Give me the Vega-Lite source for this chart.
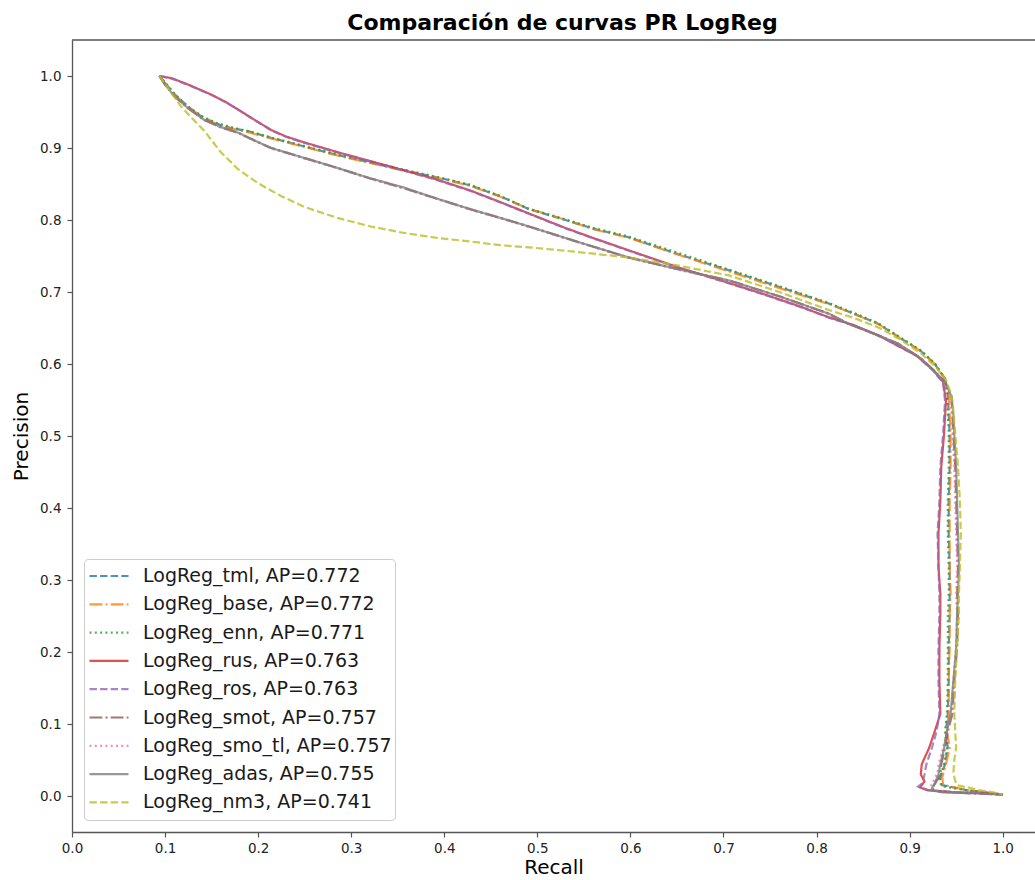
{
  "$schema": "https://vega.github.io/schema/vega-lite/v6.json",
  "autosize": "none",
  "width": 963,
  "height": 792,
  "padding": {"left": 72, "top": 40, "right": 0, "bottom": 48},
  "background": "white",
  "title": {
    "text": "Comparación de curvas PR LogReg",
    "font": "DejaVu Sans",
    "fontSize": 22,
    "fontWeight": "bold",
    "color": "#000000",
    "anchor": "middle",
    "dx": 9,
    "offset": 4
  },
  "config": {
    "view": {"stroke": null},
    "axis": {
      "labelFont": "DejaVu Sans",
      "titleFont": "DejaVu Sans",
      "labelFontSize": 13.5,
      "titleFontSize": 20,
      "titleFontWeight": "normal",
      "labelColor": "#222222",
      "titleColor": "#000000",
      "domainColor": "#555555",
      "domainWidth": 1.3,
      "tickColor": "#555555",
      "tickWidth": 1.2,
      "tickSize": 5,
      "labelFlush": false,
      "grid": false
    },
    "legend": {
      "orient": "bottom-left",
      "offset": 12,
      "padding": 3,
      "fillColor": "rgba(255,255,255,0.8)",
      "strokeColor": "#cccccc",
      "strokeWidth": 1,
      "cornerRadius": 4,
      "symbolType": "stroke",
      "symbolSize": 1521,
      "symbolStrokeWidth": 2.2,
      "symbolOpacity": 0.8,
      "symbolOffset": 1,
      "labelFont": "DejaVu Sans",
      "labelFontSize": 19,
      "labelColor": "#1a1a1a",
      "labelOffset": 13,
      "labelLimit": 0,
      "clipHeight": 28,
      "rowPadding": 0.3
    }
  },
  "datasets": {
    "modelos": [
      {"s": "tml", "nombre": "LogReg_tml, AP=0.772"},
      {"s": "base", "nombre": "LogReg_base, AP=0.772"},
      {"s": "enn", "nombre": "LogReg_enn, AP=0.771"},
      {"s": "rus", "nombre": "LogReg_rus, AP=0.763"},
      {"s": "ros", "nombre": "LogReg_ros, AP=0.763"},
      {"s": "smot", "nombre": "LogReg_smot, AP=0.757"},
      {"s": "smo_tl", "nombre": "LogReg_smo_tl, AP=0.757"},
      {"s": "adas", "nombre": "LogReg_adas, AP=0.755"},
      {"s": "nm3", "nombre": "LogReg_nm3, AP=0.741"}
    ],
    "curvas": [
      {"s":"tml","r":0.094,"p":1.000},{"s":"tml","r":0.100,"p":0.990},{"s":"tml","r":0.110,"p":0.975},{"s":"tml","r":0.125,"p":0.957},{"s":"tml","r":0.140,"p":0.943},{"s":"tml","r":0.155,"p":0.934},{"s":"tml","r":0.170,"p":0.928},{"s":"tml","r":0.190,"p":0.923},{"s":"tml","r":0.214,"p":0.914},{"s":"tml","r":0.250,"p":0.902},{"s":"tml","r":0.286,"p":0.890},{"s":"tml","r":0.320,"p":0.880},{"s":"tml","r":0.357,"p":0.869},{"s":"tml","r":0.400,"p":0.857},{"s":"tml","r":0.428,"p":0.848},{"s":"tml","r":0.460,"p":0.833},{"s":"tml","r":0.491,"p":0.815},{"s":"tml","r":0.530,"p":0.800},{"s":"tml","r":0.560,"p":0.788},{"s":"tml","r":0.598,"p":0.776},{"s":"tml","r":0.650,"p":0.753},{"s":"tml","r":0.706,"p":0.730},{"s":"tml","r":0.760,"p":0.707},{"s":"tml","r":0.813,"p":0.684},{"s":"tml","r":0.840,"p":0.670},{"s":"tml","r":0.866,"p":0.656},{"s":"tml","r":0.890,"p":0.636},{"s":"tml","r":0.912,"p":0.618},{"s":"tml","r":0.927,"p":0.600},{"s":"tml","r":0.938,"p":0.580},{"s":"tml","r":0.941,"p":0.560},{"s":"tml","r":0.942,"p":0.530},{"s":"tml","r":0.943,"p":0.503},{"s":"tml","r":0.943,"p":0.457},{"s":"tml","r":0.942,"p":0.410},{"s":"tml","r":0.942,"p":0.364},{"s":"tml","r":0.943,"p":0.318},{"s":"tml","r":0.943,"p":0.281},{"s":"tml","r":0.943,"p":0.253},{"s":"tml","r":0.942,"p":0.206},{"s":"tml","r":0.942,"p":0.160},{"s":"tml","r":0.941,"p":0.114},{"s":"tml","r":0.939,"p":0.090},{"s":"tml","r":0.941,"p":0.067},{"s":"tml","r":0.938,"p":0.044},{"s":"tml","r":0.933,"p":0.025},{"s":"tml","r":0.935,"p":0.015},{"s":"tml","r":0.947,"p":0.012},{"s":"tml","r":0.962,"p":0.008},{"s":"tml","r":0.981,"p":0.005},{"s":"tml","r":1.000,"p":0.002},

      {"s":"base","r":0.094,"p":1.000},{"s":"base","r":0.101,"p":0.989},{"s":"base","r":0.112,"p":0.972},{"s":"base","r":0.126,"p":0.956},{"s":"base","r":0.141,"p":0.942},{"s":"base","r":0.156,"p":0.933},{"s":"base","r":0.172,"p":0.927},{"s":"base","r":0.192,"p":0.921},{"s":"base","r":0.215,"p":0.913},{"s":"base","r":0.251,"p":0.901},{"s":"base","r":0.287,"p":0.889},{"s":"base","r":0.321,"p":0.879},{"s":"base","r":0.358,"p":0.868},{"s":"base","r":0.401,"p":0.856},{"s":"base","r":0.429,"p":0.847},{"s":"base","r":0.461,"p":0.832},{"s":"base","r":0.492,"p":0.815},{"s":"base","r":0.531,"p":0.800},{"s":"base","r":0.561,"p":0.787},{"s":"base","r":0.599,"p":0.775},{"s":"base","r":0.651,"p":0.752},{"s":"base","r":0.707,"p":0.728},{"s":"base","r":0.761,"p":0.705},{"s":"base","r":0.814,"p":0.683},{"s":"base","r":0.841,"p":0.669},{"s":"base","r":0.867,"p":0.655},{"s":"base","r":0.891,"p":0.635},{"s":"base","r":0.913,"p":0.617},{"s":"base","r":0.928,"p":0.599},{"s":"base","r":0.938,"p":0.579},{"s":"base","r":0.942,"p":0.558},{"s":"base","r":0.943,"p":0.530},{"s":"base","r":0.944,"p":0.503},{"s":"base","r":0.944,"p":0.457},{"s":"base","r":0.943,"p":0.410},{"s":"base","r":0.943,"p":0.364},{"s":"base","r":0.943,"p":0.318},{"s":"base","r":0.944,"p":0.281},{"s":"base","r":0.943,"p":0.253},{"s":"base","r":0.943,"p":0.206},{"s":"base","r":0.942,"p":0.160},{"s":"base","r":0.942,"p":0.114},{"s":"base","r":0.940,"p":0.090},{"s":"base","r":0.943,"p":0.067},{"s":"base","r":0.939,"p":0.044},{"s":"base","r":0.935,"p":0.026},{"s":"base","r":0.936,"p":0.016},{"s":"base","r":0.948,"p":0.012},{"s":"base","r":0.963,"p":0.008},{"s":"base","r":0.982,"p":0.005},{"s":"base","r":1.000,"p":0.002},

      {"s":"enn","r":0.094,"p":1.000},{"s":"enn","r":0.100,"p":0.991},{"s":"enn","r":0.111,"p":0.974},{"s":"enn","r":0.124,"p":0.958},{"s":"enn","r":0.140,"p":0.944},{"s":"enn","r":0.155,"p":0.935},{"s":"enn","r":0.171,"p":0.929},{"s":"enn","r":0.191,"p":0.923},{"s":"enn","r":0.213,"p":0.915},{"s":"enn","r":0.249,"p":0.903},{"s":"enn","r":0.285,"p":0.891},{"s":"enn","r":0.320,"p":0.881},{"s":"enn","r":0.356,"p":0.870},{"s":"enn","r":0.399,"p":0.858},{"s":"enn","r":0.428,"p":0.849},{"s":"enn","r":0.459,"p":0.834},{"s":"enn","r":0.490,"p":0.816},{"s":"enn","r":0.530,"p":0.801},{"s":"enn","r":0.560,"p":0.789},{"s":"enn","r":0.598,"p":0.777},{"s":"enn","r":0.650,"p":0.755},{"s":"enn","r":0.706,"p":0.731},{"s":"enn","r":0.760,"p":0.708},{"s":"enn","r":0.813,"p":0.685},{"s":"enn","r":0.840,"p":0.671},{"s":"enn","r":0.866,"p":0.657},{"s":"enn","r":0.890,"p":0.637},{"s":"enn","r":0.912,"p":0.619},{"s":"enn","r":0.927,"p":0.601},{"s":"enn","r":0.937,"p":0.581},{"s":"enn","r":0.940,"p":0.560},{"s":"enn","r":0.941,"p":0.530},{"s":"enn","r":0.942,"p":0.503},{"s":"enn","r":0.942,"p":0.457},{"s":"enn","r":0.941,"p":0.410},{"s":"enn","r":0.941,"p":0.364},{"s":"enn","r":0.942,"p":0.318},{"s":"enn","r":0.942,"p":0.281},{"s":"enn","r":0.941,"p":0.253},{"s":"enn","r":0.941,"p":0.206},{"s":"enn","r":0.941,"p":0.160},{"s":"enn","r":0.940,"p":0.114},{"s":"enn","r":0.938,"p":0.090},{"s":"enn","r":0.940,"p":0.067},{"s":"enn","r":0.937,"p":0.044},{"s":"enn","r":0.932,"p":0.024},{"s":"enn","r":0.934,"p":0.014},{"s":"enn","r":0.946,"p":0.011},{"s":"enn","r":0.961,"p":0.008},{"s":"enn","r":0.980,"p":0.005},{"s":"enn","r":1.000,"p":0.002},

      {"s":"rus","r":0.094,"p":1.000},{"s":"rus","r":0.107,"p":0.997},{"s":"rus","r":0.125,"p":0.988},{"s":"rus","r":0.150,"p":0.974},{"s":"rus","r":0.165,"p":0.964},{"s":"rus","r":0.179,"p":0.953},{"s":"rus","r":0.195,"p":0.940},{"s":"rus","r":0.214,"p":0.925},{"s":"rus","r":0.230,"p":0.916},{"s":"rus","r":0.249,"p":0.908},{"s":"rus","r":0.286,"p":0.894},{"s":"rus","r":0.320,"p":0.882},{"s":"rus","r":0.357,"p":0.869},{"s":"rus","r":0.390,"p":0.857},{"s":"rus","r":0.428,"p":0.841},{"s":"rus","r":0.460,"p":0.825},{"s":"rus","r":0.491,"p":0.809},{"s":"rus","r":0.530,"p":0.789},{"s":"rus","r":0.560,"p":0.775},{"s":"rus","r":0.598,"p":0.758},{"s":"rus","r":0.652,"p":0.734},{"s":"rus","r":0.700,"p":0.715},{"s":"rus","r":0.741,"p":0.698},{"s":"rus","r":0.780,"p":0.681},{"s":"rus","r":0.813,"p":0.665},{"s":"rus","r":0.840,"p":0.654},{"s":"rus","r":0.866,"p":0.640},{"s":"rus","r":0.888,"p":0.625},{"s":"rus","r":0.907,"p":0.612},{"s":"rus","r":0.925,"p":0.592},{"s":"rus","r":0.936,"p":0.575},{"s":"rus","r":0.939,"p":0.549},{"s":"rus","r":0.937,"p":0.503},{"s":"rus","r":0.934,"p":0.457},{"s":"rus","r":0.933,"p":0.410},{"s":"rus","r":0.931,"p":0.364},{"s":"rus","r":0.931,"p":0.318},{"s":"rus","r":0.933,"p":0.281},{"s":"rus","r":0.933,"p":0.253},{"s":"rus","r":0.932,"p":0.206},{"s":"rus","r":0.932,"p":0.160},{"s":"rus","r":0.933,"p":0.114},{"s":"rus","r":0.927,"p":0.090},{"s":"rus","r":0.921,"p":0.067},{"s":"rus","r":0.913,"p":0.044},{"s":"rus","r":0.912,"p":0.030},{"s":"rus","r":0.916,"p":0.020},{"s":"rus","r":0.911,"p":0.012},{"s":"rus","r":0.919,"p":0.008},{"s":"rus","r":0.950,"p":0.005},{"s":"rus","r":0.980,"p":0.004},{"s":"rus","r":1.000,"p":0.002},

      {"s":"ros","r":0.094,"p":1.000},{"s":"ros","r":0.108,"p":0.996},{"s":"ros","r":0.126,"p":0.987},{"s":"ros","r":0.151,"p":0.973},{"s":"ros","r":0.166,"p":0.963},{"s":"ros","r":0.180,"p":0.952},{"s":"ros","r":0.196,"p":0.939},{"s":"ros","r":0.215,"p":0.924},{"s":"ros","r":0.231,"p":0.915},{"s":"ros","r":0.250,"p":0.907},{"s":"ros","r":0.287,"p":0.893},{"s":"ros","r":0.321,"p":0.881},{"s":"ros","r":0.358,"p":0.868},{"s":"ros","r":0.391,"p":0.856},{"s":"ros","r":0.429,"p":0.840},{"s":"ros","r":0.461,"p":0.824},{"s":"ros","r":0.492,"p":0.808},{"s":"ros","r":0.531,"p":0.788},{"s":"ros","r":0.561,"p":0.774},{"s":"ros","r":0.599,"p":0.757},{"s":"ros","r":0.653,"p":0.733},{"s":"ros","r":0.701,"p":0.714},{"s":"ros","r":0.742,"p":0.697},{"s":"ros","r":0.781,"p":0.680},{"s":"ros","r":0.814,"p":0.664},{"s":"ros","r":0.841,"p":0.653},{"s":"ros","r":0.867,"p":0.639},{"s":"ros","r":0.889,"p":0.624},{"s":"ros","r":0.908,"p":0.611},{"s":"ros","r":0.925,"p":0.591},{"s":"ros","r":0.936,"p":0.574},{"s":"ros","r":0.938,"p":0.549},{"s":"ros","r":0.936,"p":0.503},{"s":"ros","r":0.933,"p":0.457},{"s":"ros","r":0.932,"p":0.410},{"s":"ros","r":0.930,"p":0.364},{"s":"ros","r":0.931,"p":0.318},{"s":"ros","r":0.932,"p":0.281},{"s":"ros","r":0.932,"p":0.253},{"s":"ros","r":0.931,"p":0.206},{"s":"ros","r":0.931,"p":0.160},{"s":"ros","r":0.932,"p":0.114},{"s":"ros","r":0.929,"p":0.090},{"s":"ros","r":0.924,"p":0.067},{"s":"ros","r":0.918,"p":0.044},{"s":"ros","r":0.916,"p":0.030},{"s":"ros","r":0.914,"p":0.018},{"s":"ros","r":0.909,"p":0.013},{"s":"ros","r":0.921,"p":0.008},{"s":"ros","r":0.951,"p":0.005},{"s":"ros","r":0.981,"p":0.004},{"s":"ros","r":1.000,"p":0.002},

      {"s":"smot","r":0.094,"p":1.000},{"s":"smot","r":0.100,"p":0.988},{"s":"smot","r":0.110,"p":0.972},{"s":"smot","r":0.125,"p":0.955},{"s":"smot","r":0.142,"p":0.939},{"s":"smot","r":0.160,"p":0.929},{"s":"smot","r":0.179,"p":0.921},{"s":"smot","r":0.195,"p":0.911},{"s":"smot","r":0.214,"p":0.900},{"s":"smot","r":0.250,"p":0.886},{"s":"smot","r":0.286,"p":0.872},{"s":"smot","r":0.320,"p":0.858},{"s":"smot","r":0.357,"p":0.844},{"s":"smot","r":0.384,"p":0.833},{"s":"smot","r":0.428,"p":0.815},{"s":"smot","r":0.460,"p":0.803},{"s":"smot","r":0.491,"p":0.791},{"s":"smot","r":0.540,"p":0.771},{"s":"smot","r":0.598,"p":0.748},{"s":"smot","r":0.650,"p":0.732},{"s":"smot","r":0.706,"p":0.716},{"s":"smot","r":0.760,"p":0.694},{"s":"smot","r":0.813,"p":0.670},{"s":"smot","r":0.834,"p":0.656},{"s":"smot","r":0.866,"p":0.640},{"s":"smot","r":0.888,"p":0.628},{"s":"smot","r":0.912,"p":0.608},{"s":"smot","r":0.926,"p":0.591},{"s":"smot","r":0.938,"p":0.575},{"s":"smot","r":0.945,"p":0.555},{"s":"smot","r":0.946,"p":0.530},{"s":"smot","r":0.947,"p":0.503},{"s":"smot","r":0.949,"p":0.457},{"s":"smot","r":0.950,"p":0.410},{"s":"smot","r":0.951,"p":0.364},{"s":"smot","r":0.952,"p":0.318},{"s":"smot","r":0.951,"p":0.281},{"s":"smot","r":0.952,"p":0.253},{"s":"smot","r":0.951,"p":0.206},{"s":"smot","r":0.948,"p":0.160},{"s":"smot","r":0.946,"p":0.114},{"s":"smot","r":0.941,"p":0.090},{"s":"smot","r":0.938,"p":0.067},{"s":"smot","r":0.934,"p":0.044},{"s":"smot","r":0.933,"p":0.030},{"s":"smot","r":0.929,"p":0.021},{"s":"smot","r":0.924,"p":0.010},{"s":"smot","r":0.933,"p":0.006},{"s":"smot","r":0.960,"p":0.004},{"s":"smot","r":1.000,"p":0.002},

      {"s":"smo_tl","r":0.094,"p":1.000},{"s":"smo_tl","r":0.101,"p":0.987},{"s":"smo_tl","r":0.111,"p":0.971},{"s":"smo_tl","r":0.126,"p":0.954},{"s":"smo_tl","r":0.143,"p":0.938},{"s":"smo_tl","r":0.161,"p":0.928},{"s":"smo_tl","r":0.180,"p":0.920},{"s":"smo_tl","r":0.196,"p":0.910},{"s":"smo_tl","r":0.215,"p":0.899},{"s":"smo_tl","r":0.251,"p":0.885},{"s":"smo_tl","r":0.287,"p":0.871},{"s":"smo_tl","r":0.321,"p":0.857},{"s":"smo_tl","r":0.358,"p":0.843},{"s":"smo_tl","r":0.385,"p":0.832},{"s":"smo_tl","r":0.429,"p":0.814},{"s":"smo_tl","r":0.461,"p":0.802},{"s":"smo_tl","r":0.492,"p":0.790},{"s":"smo_tl","r":0.541,"p":0.770},{"s":"smo_tl","r":0.599,"p":0.747},{"s":"smo_tl","r":0.651,"p":0.731},{"s":"smo_tl","r":0.707,"p":0.715},{"s":"smo_tl","r":0.761,"p":0.693},{"s":"smo_tl","r":0.814,"p":0.669},{"s":"smo_tl","r":0.835,"p":0.655},{"s":"smo_tl","r":0.867,"p":0.639},{"s":"smo_tl","r":0.889,"p":0.627},{"s":"smo_tl","r":0.913,"p":0.607},{"s":"smo_tl","r":0.927,"p":0.590},{"s":"smo_tl","r":0.938,"p":0.574},{"s":"smo_tl","r":0.944,"p":0.555},{"s":"smo_tl","r":0.945,"p":0.530},{"s":"smo_tl","r":0.946,"p":0.503},{"s":"smo_tl","r":0.948,"p":0.457},{"s":"smo_tl","r":0.949,"p":0.410},{"s":"smo_tl","r":0.950,"p":0.364},{"s":"smo_tl","r":0.951,"p":0.318},{"s":"smo_tl","r":0.950,"p":0.281},{"s":"smo_tl","r":0.951,"p":0.253},{"s":"smo_tl","r":0.950,"p":0.206},{"s":"smo_tl","r":0.947,"p":0.160},{"s":"smo_tl","r":0.945,"p":0.114},{"s":"smo_tl","r":0.940,"p":0.090},{"s":"smo_tl","r":0.936,"p":0.067},{"s":"smo_tl","r":0.931,"p":0.044},{"s":"smo_tl","r":0.930,"p":0.032},{"s":"smo_tl","r":0.926,"p":0.022},{"s":"smo_tl","r":0.922,"p":0.011},{"s":"smo_tl","r":0.932,"p":0.006},{"s":"smo_tl","r":0.961,"p":0.004},{"s":"smo_tl","r":1.000,"p":0.002},

      {"s":"adas","r":0.094,"p":1.000},{"s":"adas","r":0.100,"p":0.988},{"s":"adas","r":0.110,"p":0.972},{"s":"adas","r":0.125,"p":0.955},{"s":"adas","r":0.142,"p":0.939},{"s":"adas","r":0.160,"p":0.929},{"s":"adas","r":0.179,"p":0.921},{"s":"adas","r":0.195,"p":0.911},{"s":"adas","r":0.214,"p":0.900},{"s":"adas","r":0.250,"p":0.886},{"s":"adas","r":0.286,"p":0.872},{"s":"adas","r":0.320,"p":0.858},{"s":"adas","r":0.357,"p":0.845},{"s":"adas","r":0.384,"p":0.833},{"s":"adas","r":0.428,"p":0.815},{"s":"adas","r":0.460,"p":0.803},{"s":"adas","r":0.491,"p":0.791},{"s":"adas","r":0.540,"p":0.771},{"s":"adas","r":0.598,"p":0.748},{"s":"adas","r":0.650,"p":0.732},{"s":"adas","r":0.706,"p":0.716},{"s":"adas","r":0.760,"p":0.694},{"s":"adas","r":0.813,"p":0.670},{"s":"adas","r":0.834,"p":0.656},{"s":"adas","r":0.866,"p":0.640},{"s":"adas","r":0.888,"p":0.628},{"s":"adas","r":0.912,"p":0.608},{"s":"adas","r":0.926,"p":0.591},{"s":"adas","r":0.938,"p":0.575},{"s":"adas","r":0.945,"p":0.555},{"s":"adas","r":0.947,"p":0.530},{"s":"adas","r":0.948,"p":0.503},{"s":"adas","r":0.950,"p":0.457},{"s":"adas","r":0.951,"p":0.410},{"s":"adas","r":0.952,"p":0.364},{"s":"adas","r":0.953,"p":0.318},{"s":"adas","r":0.952,"p":0.281},{"s":"adas","r":0.951,"p":0.253},{"s":"adas","r":0.950,"p":0.206},{"s":"adas","r":0.947,"p":0.160},{"s":"adas","r":0.944,"p":0.114},{"s":"adas","r":0.940,"p":0.090},{"s":"adas","r":0.937,"p":0.067},{"s":"adas","r":0.933,"p":0.044},{"s":"adas","r":0.931,"p":0.030},{"s":"adas","r":0.927,"p":0.018},{"s":"adas","r":0.923,"p":0.008},{"s":"adas","r":0.935,"p":0.005},{"s":"adas","r":0.965,"p":0.004},{"s":"adas","r":1.000,"p":0.002},

      {"s":"nm3","r":0.094,"p":1.000},{"s":"nm3","r":0.105,"p":0.980},{"s":"nm3","r":0.117,"p":0.958},{"s":"nm3","r":0.130,"p":0.940},{"s":"nm3","r":0.142,"p":0.924},{"s":"nm3","r":0.160,"p":0.894},{"s":"nm3","r":0.178,"p":0.871},{"s":"nm3","r":0.200,"p":0.851},{"s":"nm3","r":0.225,"p":0.833},{"s":"nm3","r":0.250,"p":0.818},{"s":"nm3","r":0.285,"p":0.803},{"s":"nm3","r":0.321,"p":0.791},{"s":"nm3","r":0.357,"p":0.782},{"s":"nm3","r":0.393,"p":0.775},{"s":"nm3","r":0.429,"p":0.770},{"s":"nm3","r":0.460,"p":0.765},{"s":"nm3","r":0.491,"p":0.762},{"s":"nm3","r":0.540,"p":0.756},{"s":"nm3","r":0.598,"p":0.748},{"s":"nm3","r":0.650,"p":0.737},{"s":"nm3","r":0.706,"p":0.723},{"s":"nm3","r":0.760,"p":0.700},{"s":"nm3","r":0.813,"p":0.675},{"s":"nm3","r":0.840,"p":0.664},{"s":"nm3","r":0.866,"p":0.651},{"s":"nm3","r":0.890,"p":0.634},{"s":"nm3","r":0.912,"p":0.615},{"s":"nm3","r":0.928,"p":0.596},{"s":"nm3","r":0.939,"p":0.578},{"s":"nm3","r":0.944,"p":0.560},{"s":"nm3","r":0.946,"p":0.549},{"s":"nm3","r":0.949,"p":0.503},{"s":"nm3","r":0.952,"p":0.457},{"s":"nm3","r":0.954,"p":0.410},{"s":"nm3","r":0.955,"p":0.364},{"s":"nm3","r":0.954,"p":0.318},{"s":"nm3","r":0.953,"p":0.281},{"s":"nm3","r":0.953,"p":0.253},{"s":"nm3","r":0.951,"p":0.206},{"s":"nm3","r":0.949,"p":0.160},{"s":"nm3","r":0.948,"p":0.114},{"s":"nm3","r":0.949,"p":0.090},{"s":"nm3","r":0.950,"p":0.067},{"s":"nm3","r":0.948,"p":0.050},{"s":"nm3","r":0.947,"p":0.032},{"s":"nm3","r":0.949,"p":0.021},{"s":"nm3","r":0.951,"p":0.015},{"s":"nm3","r":0.962,"p":0.012},{"s":"nm3","r":0.976,"p":0.008},{"s":"nm3","r":0.990,"p":0.005},{"s":"nm3","r":1.000,"p":0.002}
    ]
  },
  "layer": [
    {
      "data": {"name": "curvas"},
      "transform": [
        {"lookup": "s", "from": {"data": {"name": "modelos"}, "key": "s", "fields": ["nombre"]}}
      ],
      "mark": {"type": "line", "strokeWidth": 2.2, "opacity": 0.8, "clip": true},
      "encoding": {
        "x": {
          "field": "r",
          "type": "quantitative",
          "scale": {"domain": [0, 1.0347], "nice": false, "zero": false},
          "axis": {
            "title": "Recall",
            "values": [0, 0.1, 0.2, 0.3, 0.4, 0.5, 0.6, 0.7, 0.8, 0.9, 1.0],
            "format": ".1f",
            "labelPadding": 4,
            "titlePadding": 3
          }
        },
        "y": {
          "field": "p",
          "type": "quantitative",
          "scale": {"domain": [-0.05, 1.05], "nice": false, "zero": false},
          "axis": {
            "title": "Precision",
            "values": [0, 0.1, 0.2, 0.3, 0.4, 0.5, 0.6, 0.7, 0.8, 0.9, 1.0],
            "format": ".1f",
            "labelPadding": 6,
            "titlePadding": 8
          }
        },
        "color": {
          "field": "nombre",
          "type": "nominal",
          "title": null,
          "scale": {
            "domain": ["LogReg_tml, AP=0.772", "LogReg_base, AP=0.772", "LogReg_enn, AP=0.771", "LogReg_rus, AP=0.763", "LogReg_ros, AP=0.763", "LogReg_smot, AP=0.757", "LogReg_smo_tl, AP=0.757", "LogReg_adas, AP=0.755", "LogReg_nm3, AP=0.741"],
            "range": ["#1f77b4", "#ff7f0e", "#2ca02c", "#d62728", "#9467bd", "#8c564b", "#e377c2", "#7f7f7f", "#bcbd22"]
          }
        },
        "strokeDash": {
          "field": "nombre",
          "type": "nominal",
          "title": null,
          "scale": {
            "domain": ["LogReg_tml, AP=0.772", "LogReg_base, AP=0.772", "LogReg_enn, AP=0.771", "LogReg_rus, AP=0.763", "LogReg_ros, AP=0.763", "LogReg_smot, AP=0.757", "LogReg_smo_tl, AP=0.757", "LogReg_adas, AP=0.755", "LogReg_nm3, AP=0.741"],
            "range": [[7.4, 3.2], [12.8, 3.2, 2, 3.2], [2, 3.3], [1, 0], [7.4, 3.2], [12.8, 3.2, 2, 3.2], [2, 3.3], [1, 0], [7.4, 3.2]]
          }
        },
        "order": {"value": null}
      }
    },
    {
      "data": {"values": [{}]},
      "mark": {"type": "rule", "color": "#555555", "strokeWidth": 1.3},
      "encoding": {"y": {"datum": 1.05}}
    }
  ]
}
